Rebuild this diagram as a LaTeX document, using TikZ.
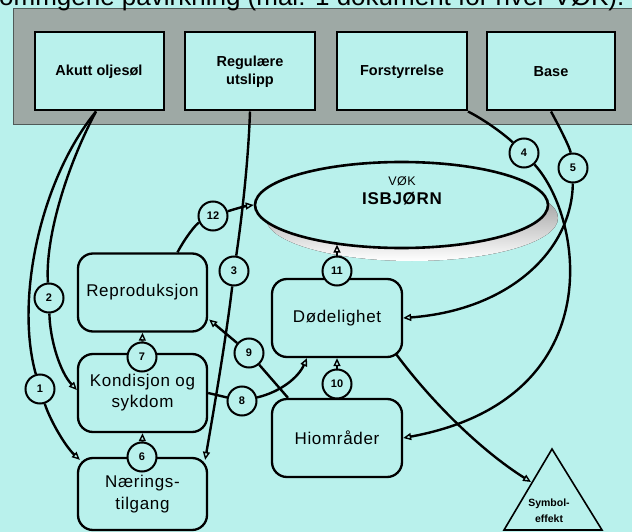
\documentclass[tikz,border=0pt]{standalone}
\usepackage{fontspec}
\setmainfont{Liberation Sans}
\newfontfamily\spaced[LetterSpace=4]{Liberation Sans}
\usetikzlibrary{arrows.meta,shapes.geometric,calc}
\definecolor{sea}{RGB}{185,241,236}
\definecolor{bandgray}{RGB}{158,169,165}
\definecolor{bandedge}{RGB}{80,90,88}
\definecolor{shade}{RGB}{115,140,136}
\pgfdeclarelayer{back}
\pgfdeclarelayer{wires}
\pgfsetlayers{back,wires,main}

\begin{document}
\begin{tikzpicture}[x=1pt,y=-1pt,
  every node/.style={inner sep=0pt},
  source/.style={draw,line width=2pt,fill=sea,minimum width=129pt,minimum height=78pt,
    align=center,font=\bfseries\fontsize{14.5}{18}\selectfont},
  stage/.style={draw,line width=2.3pt,fill=sea,rounded corners=15pt,minimum width=129pt,
    minimum height=78pt,align=center,font=\spaced\fontsize{17}{21}\selectfont},
  tag/.style={circle,draw,line width=2pt,fill=sea,minimum size=29pt,
    font=\bfseries\fontsize{11}{12}\selectfont},
  wire/.style={line width=2.4pt},
  flow/.style={wire,-{Triangle[open,length=8pt,width=7pt,line width=1.4pt]}},
]
\useasboundingbox (0,0) rectangle (632,532);

\begin{pgfonlayer}{back}
  \fill[sea] (0,0) rectangle (632,532);
  % grey frame holding the four sources
  \filldraw[fill=bandgray,draw=bandedge,line width=1pt] (13,9) rectangle (640,125);
  % drop shadow under the ellipse
  \fill[shade] (412,218) ellipse [x radius=146pt, y radius=43pt];
\end{pgfonlayer}

% heading, cut by the page edge
\node[anchor=base west,font=\fontsize{26}{26}\selectfont] (title) at (-1,6)
  {ommgene påvirkning (mal: 1 dokument for hver VØK).};

% sources
\node[source] (akutt) at (99,71.5) {Akutt oljesøl};
\node[source,minimum width=130pt] (regul) at (250,71.5) {Regulære\\utslipp};
\node[source,minimum width=130pt] (forst) at (402,71.5) {Forstyrrelse};
\node[source,minimum width=128pt] (base) at (551,71.5) {Base};

% the VØK itself
\node[ellipse,draw,line width=2.6pt,fill=sea,minimum width=293pt,minimum height=86pt] (isb) at (401.5,205) {};
\node[font=\spaced\fontsize{12.5}{12}\selectfont] (vok) at (402,181) {VØK};
\node[font=\spaced\bfseries\fontsize{17}{17}\selectfont] (isbtxt) at (402,199) {ISBJØRN};

% effect stages
\node[stage] (repro) at (142.5,292.5) {Reproduksjon};
\node[stage] (kond) at (142.5,393) {Kondisjon og\\sykdom};
\node[stage,minimum height=72pt,font=\spaced\fontsize{17}{22}\selectfont] (naer) at (142.5,494) {Nærings-\\tilgang};
\node[stage,minimum width=130pt] (dod) at (337,318) {Dødelighet};
\node[stage,minimum width=130pt] (hio) at (337,438) {Hiområder};

% symbol effect triangle
\draw[line width=1.6pt,fill=sea] (552,449) coordinate (apex) -- (602,530) coordinate (symR)
  -- (504,530) coordinate (symB) -- cycle;
\coordinate (symL) at (531,482);
\node[align=center,font=\bfseries\fontsize{10.5}{16}\selectfont] (sym) at (549,511) {Symbol-\\effekt};

% numbered pathways
\node[tag] (c1) at (40,389) {1};
\node[tag] (c2) at (49,298) {2};
\node[tag] (c3) at (234,271) {3};
\node[tag] (c4) at (524,153) {4};
\node[tag] (c5) at (573,168) {5};
\node[tag] (c6) at (142,457) {6};
\node[tag] (c7) at (142,357) {7};
\node[tag] (c8) at (242,401) {8};
\node[tag] (c9) at (249,353) {9};
\node[tag] (c10) at (337,384) {10};
\node[tag] (c11) at (337,271) {11};
\node[tag] (c12) at (213,216) {12};

\begin{pgfonlayer}{wires}
  % 1
  \draw[wire] ([xshift=-3pt]akutt.south) .. controls (40,180) and (15,300) .. (c1);
  \draw[flow] (c1) .. controls (50,420) and (65,446) .. ([xshift=3pt,yshift=-3pt]naer.north west);
  % 2
  \draw[wire] ([xshift=-3pt]akutt.south) .. controls (65,170) and (45,240) .. (c2);
  \draw[flow] (c2) .. controls (50,340) and (60,372) .. ([yshift=3pt]kond.west);
  % 3
  \draw[wire] (regul.south) .. controls (248,170) and (240,230) .. (c3);
  \draw[flow] (c3) .. controls (226,340) and (212,420) .. ([xshift=-3pt,yshift=-3pt]naer.north east);
  % 4
  \draw[wire] (forst.south east) .. controls (485,120) and (505,135) .. (c4);
  \draw[flow] (c4) .. controls (585,220) and (610,400) .. (hio.east);
  % 5
  \draw[wire] (base.south) .. controls (560,128) and (570,148) .. (c5);
  \draw[flow] (c5) .. controls (572,250) and (510,310) .. (dod.east);
  % 6, 7, 10, 11
  \draw[flow] (c6) -- (kond.south);
  \draw[flow] (c7) -- (repro.south);
  \draw[flow] (c10) -- (dod.south);
  \draw[flow] (c11) -- (c11 |- isb.-149);
  % 8
  \draw[wire] (kond.east) -- (c8);
  \draw[flow] (c8) .. controls (280,392) and (298,378) .. ([xshift=-30pt]dod.south);
  % 9
  \draw[wire] ([xshift=-49pt]hio.north) -- (c9);
  \draw[flow] (c9) -- ([xshift=1pt,yshift=-27pt]repro.east);
  % 12
  \draw[wire] ([xshift=35pt]repro.north) .. controls (185,238) and (196,224) .. (c12);
  \draw[flow] (c12) .. controls (238,208) and (246,206) .. (isb.west);
  % 13
  \draw[flow] ([xshift=-7pt,yshift=4pt]dod.south east) .. controls (430,400) and (480,450) .. (symL);
\end{pgfonlayer}
\end{tikzpicture}
\end{document}
